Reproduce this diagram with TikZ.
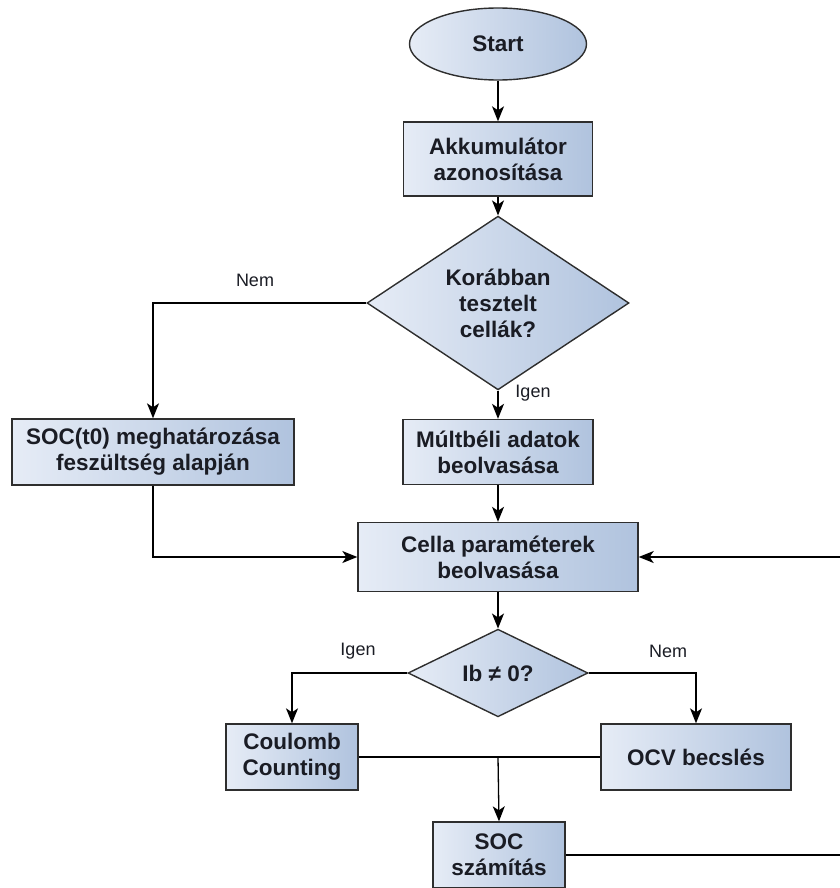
\documentclass[tikz,border=0pt]{standalone}
\usepackage{fontspec}
\setmainfont{Liberation Sans}
\usetikzlibrary{shapes.geometric,arrows.meta,calc}
\definecolor{boxL}{HTML}{E6ECF6}
\definecolor{boxR}{HTML}{B0C3DE}
\definecolor{edge}{HTML}{2E2E2E}
\definecolor{txt}{HTML}{1A1C24}
\tikzset{
  base/.style={draw=edge, line width=1.4pt, left color=boxL, right color=boxR,
    text=txt, font=\fontsize{22.5}{26}\selectfont\bfseries, align=center, inner sep=0pt},
  proc/.style={base, rectangle},
  term/.style={base, ellipse},
  dec/.style={base, diamond},
  conn/.style={line width=1.3pt, draw=black},
  arr/.style={conn, -{Stealth[length=15pt,width=12pt,inset=4pt]}},
  lbl/.style={font=\fontsize{18}{20}\selectfont, text=txt, inner sep=0pt}
}
\begin{document}
\begin{tikzpicture}[x=1pt,y=-1pt]
\useasboundingbox (0,0) rectangle (839,888);
\node[term, minimum width=177pt, minimum height=72pt] (start) at (498,44) {Start};
\node[proc, minimum width=189pt, minimum height=74pt] (akk) at (498,159) {Akkumulátor\\azonosítása};
\node[dec, minimum width=262pt, minimum height=145pt] (kor) at (498,303) {Korábban\\tesztelt\\cellák?};
\node[proc, minimum width=282pt, minimum height=66pt] (soc0) at (153,452) {SOC(t0) meghatározása\\feszültség alapján};
\node[proc, minimum width=190pt, minimum height=65pt] (mult) at (498,452) {Múltbéli adatok\\beolvasása};
\node[proc, minimum width=280pt, minimum height=69pt] (cella) at (498,557) {Cella paraméterek\\beolvasása};
\node[dec, minimum width=180pt, minimum height=78pt] (ib) at (498,673) {Ib ≠ 0?};
\node[proc, minimum width=132pt, minimum height=66pt] (coul) at (292,757) {Coulomb\\Counting};
\node[proc, minimum width=190pt, minimum height=66pt] (ocv) at (696,757) {OCV becslés};
\node[proc, minimum width=132pt, minimum height=66pt] (socs) at (499,855) {SOC\\számítás};

\node[lbl] (l1) at (255,280) {Nem};
\node[lbl] (l2) at (533,393) {Igen};
\node[lbl] (l3) at (358,651) {Igen};
\node[lbl] (l4) at (668,651) {Nem};

\coordinate (j) at (498,757);
\coordinate (r1) at (850,855);
\coordinate (r2) at (850,557);

\draw[arr] (start) -- (akk);
\draw[arr] (akk) -- (kor);
\draw[arr] (kor.west) -| (soc0.north);
\draw[arr] (kor.south) -- (mult.north);
\draw[arr] (mult.south) -- (cella.north);
\draw[arr] (soc0.south) |- (cella.west);
\draw[arr] (cella.south) -- (ib.north);
\draw[arr] (ib.west) -| (coul.north);
\draw[arr] (ib.east) -| (ocv.north);
\draw[conn] (coul.east) -- (ocv.west);
\draw[arr] (j) -- (socs.north);
\draw[conn] (socs.east) -- (r1) -- (r2);
\draw[arr] (r2) -- (cella.east);
\end{tikzpicture}
\end{document}
